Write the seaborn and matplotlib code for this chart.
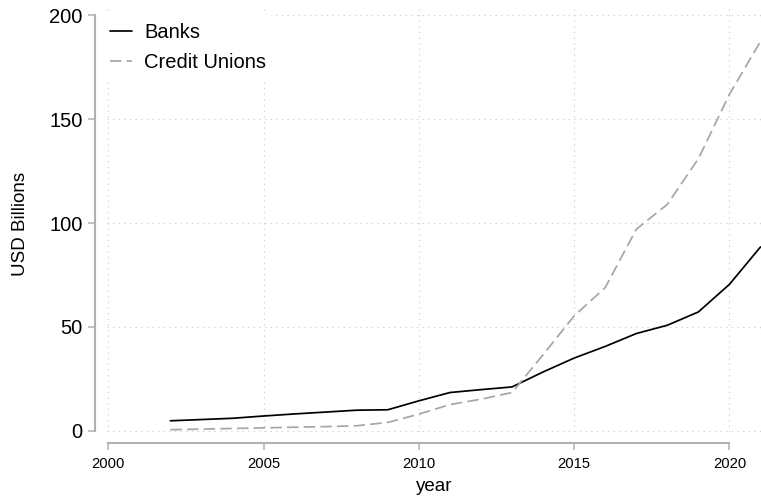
import matplotlib
matplotlib.use("Agg")
import matplotlib.pyplot as plt
import seaborn as sns
import pandas as pd

# Outstanding balances, USD billions
years = [2002, 2003, 2004, 2005, 2006, 2007, 2008, 2009, 2010, 2011,
         2012, 2013, 2014, 2015, 2016, 2017, 2018, 2019, 2020, 2021]
banks = [4.8, 5.4, 6.0, 7.1, 8.1, 9.0, 9.9, 10.1, 14.4, 18.4,
         19.8, 21.1, 28.3, 35.0, 40.6, 46.8, 50.8, 57.2, 70.5, 88.5]
credit_unions = [0.5, 0.8, 1.1, 1.4, 1.7, 2.0, 2.4, 4.0, 8.0, 12.6,
                 15.2, 18.4, 36.6, 55.3, 68.9, 97.0, 109.0, 131.0, 162.0, 187.5]
series_names = ["Banks", "Credit Unions"]
x_ticks = [2000, 2005, 2010, 2015, 2020]
y_ticks = [0, 50, 100, 150, 200]

df = pd.DataFrame({
    "year": years * 2,
    "value": banks + credit_unions,
    "series": [series_names[0]] * len(years) + [series_names[1]] * len(years),
})

sns.set_theme(style="white")
plt.rcParams["font.family"] = ["Liberation Sans", "DejaVu Sans"]
plt.rcParams["text.color"] = "black"
plt.rcParams["axes.labelcolor"] = "black"
plt.rcParams["xtick.color"] = "black"
plt.rcParams["ytick.color"] = "black"

fig = plt.figure(figsize=(7.61, 4.97), dpi=100)
ax = fig.add_axes([107 / 761, 65 / 497, 653.5 / 761, 427 / 497])

axis_grey = "#b0b0b0"
sns.lineplot(
    data=df, x="year", y="value", hue="series", style="series",
    palette={"Banks": "black", "Credit Unions": "#a6a6a6"},
    dashes={"Banks": "", "Credit Unions": (6.6, 3.0)},
    linewidth=1.25, ax=ax, legend=True, zorder=3,
)

ax.set_xlim(1999.96, 2021)
ax.set_ylim(-0.6, 205)
ax.set_xticks(x_ticks)
ax.set_yticks(y_ticks)
ax.grid(True, linestyle=(0, (1, 3.5)), color="#cfcfcf", linewidth=0.9, zorder=0)

for side in ["top", "right"]:
    ax.spines[side].set_visible(False)
ax.spines["left"].set_position(("outward", 8.6))
ax.spines["bottom"].set_position(("outward", 7.9))
ax.spines["left"].set_bounds(0, 200)
ax.spines["bottom"].set_bounds(2000, 2020)
for side in ["left", "bottom"]:
    ax.spines[side].set_color(axis_grey)
    ax.spines[side].set_linewidth(1.5)

ax.tick_params(axis="y", which="major", direction="out", length=5, width=1.1,
               color=axis_grey, labelsize=14.5, labelcolor="black", pad=4, left=True)
ax.tick_params(axis="x", which="major", direction="out", length=5, width=1.1,
               color=axis_grey, labelsize=10.6, labelcolor="black", pad=5, bottom=True)

ax.set_ylabel("USD Billions", fontsize=13.5, color="black")
ax.yaxis.set_label_coords(-0.133, 0.487)
ax.yaxis.label.set_verticalalignment("center")
ax.set_xlabel("year", fontsize=13.5, color="black", va="center")
ax.xaxis.set_label_coords(0.5, -0.1265)

leg = ax.legend(
    loc="upper left", bbox_to_anchor=(-0.0077, 0.976), frameon=True,
    facecolor="white", edgecolor="none", framealpha=1, fontsize=14.5,
    handlelength=1.1, handletextpad=0.6, labelspacing=0.53, borderpad=0.4,
    borderaxespad=0,
)
for txt in leg.get_texts():
    txt.set_color("black")
leg.set_zorder(5)

fig.savefig("out.png", dpi=100)
